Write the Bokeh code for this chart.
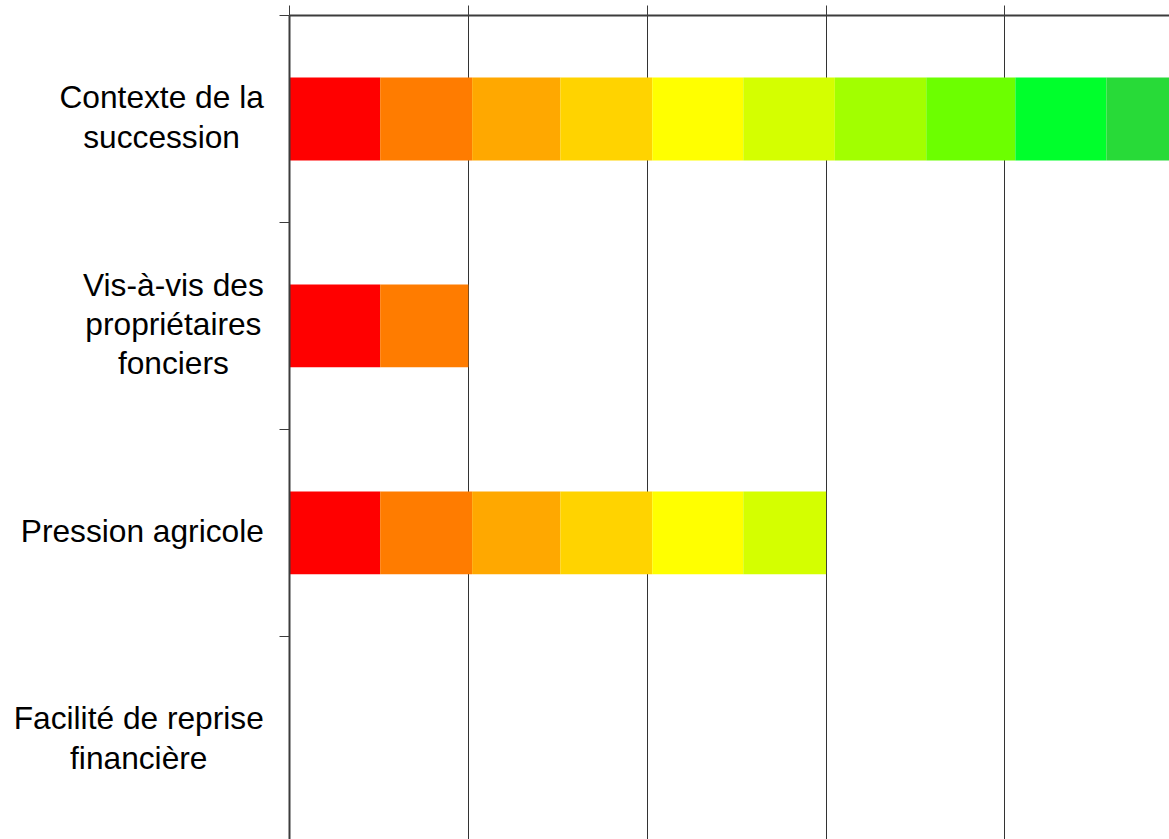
from bokeh.plotting import figure
from bokeh.models import Range1d, FixedTicker, ColumnDataSource, Label
from bokeh.layouts import row
from bokeh.embed import file_html
from bokeh.resources import INLINE

# ---- data ----
categories = [
    "Contexte de la\nsuccession",
    "Vis-à-vis des\npropriétaires\nfonciers",
    "Pression agricole",
    "Facilité de reprise\nfinancière",
]
values = [5.0, 1.0, 3.0, 0.0]
band_edges = [0.0, 0.507, 1.021, 1.514, 2.028, 2.537, 3.049, 3.56, 4.058, 4.567, 5.07]
band_colors = ["#FF0000", "#FF7C00", "#FFA800", "#FFD300", "#FFFF00",
               "#D4FF00", "#A2FF00", "#6CFF00", "#00FF2C", "#28DA38"]
x_ticks = [0, 1, 2, 3, 4, 5]

# ---- build segments (bands clipped at each category's value) ----
ys, lefts, rights, cols = [], [], [], []
for i, v in enumerate(values):
    for j, c in enumerate(band_colors):
        a, b = band_edges[j], band_edges[j + 1]
        if a < v:
            ys.append(i + 0.5)
            lefts.append(a)
            rights.append(min(b, v))
            cols.append(c)
src = ColumnDataSource(dict(y=ys, left=lefts, right=rights, color=cols))

n = len(categories)
W_LAB = 270          # width of the label column
H = 839
y_range = Range1d(3.981, 0)

# ---- main chart ----
p = figure(width=1169 - W_LAB, height=H,
           x_range=Range1d(0, 4.92), y_range=y_range,
           x_axis_location="above",
           output_backend="svg", toolbar_location=None,
           min_border_left=289 - W_LAB, min_border_top=15,
           min_border_right=0, min_border_bottom=0)
p.outline_line_color = None

p.hbar(y="y", left="left", right="right", height=0.4, color="color",
       line_color=None, source=src)

p.xgrid.ticker = FixedTicker(ticks=x_ticks)
p.xgrid.grid_line_color = "#333333"
p.ygrid.grid_line_color = None

axis_col = "#3c3c3c"
xa = p.xaxis[0]
xa.ticker = FixedTicker(ticks=[], minor_ticks=x_ticks)
xa.major_tick_out = 0
xa.major_tick_in = 0
xa.minor_tick_out = 10
xa.minor_tick_in = 0
xa.minor_tick_line_color = axis_col
xa.axis_line_width = 2
xa.axis_line_color = axis_col

ya = p.yaxis[0]
ya.ticker = FixedTicker(ticks=[], minor_ticks=list(range(n)))
ya.major_tick_out = 0
ya.major_tick_in = 0
ya.minor_tick_out = 10
ya.minor_tick_in = 0
ya.minor_tick_line_color = axis_col
ya.axis_line_width = 2
ya.axis_line_color = axis_col

# ---- label column (shares the y range) ----
lab = figure(width=W_LAB, height=H,
             x_range=Range1d(0, W_LAB), y_range=y_range,
             x_axis_location=None, y_axis_location=None,
             output_backend="svg", toolbar_location=None,
             min_border_left=0, min_border_right=0,
             min_border_top=15, min_border_bottom=0)
lab.outline_line_color = None
lab.xgrid.visible = False
lab.ygrid.visible = False

for i, text in enumerate(categories):
    lab.add_layout(Label(x=W_LAB - 6.7, y=i + 0.5, y_offset=2, text=text,
                         anchor="center_right", text_align="center",
                         text_font="Liberation Sans", text_font_size="31.7px",
                         text_line_height=1.09, text_color="black"))

layout = row(lab, p)
open("out.html", "w").write(file_html(layout, INLINE))
